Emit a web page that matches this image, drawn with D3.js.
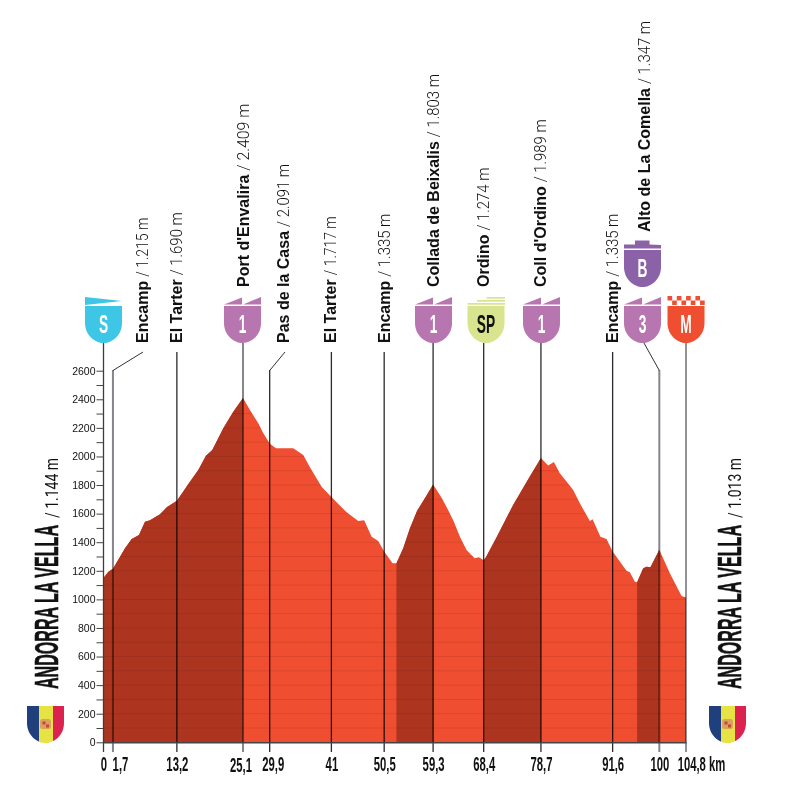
<!DOCTYPE html>
<html>
<head>
<meta charset="utf-8">
<script src="https://cdnjs.cloudflare.com/ajax/libs/d3/7.8.5/d3.min.js"></script>
<style>
    html, body { margin: 0; padding: 0; background: #fff; }
    svg { display: block; }
    text { font-family: "Liberation Sans", Arial, sans-serif; fill: #111; }
</style>
</head>
<body>
<div id="chart"></div>
<script>
// profile
const profileKm = [0, 0.1, 0.87, 1.7, 2.97, 3.87, 5.07, 6.38, 7.46, 8.36, 10.16, 11.37, 13.2, 14.35, 15.26, 17.05, 18.43, 19.57, 21.55, 23.35, 25.1,
    26.35, 27.85, 28.75, 29.9, 31.03, 34.14, 35.94, 37.14, 39.24, 41, 43.74, 45.83, 46.9, 48.24, 49.42, 50.5, 52.0, 52.7,
    53.92, 55.13, 56.44, 57.82, 59.3, 60.52, 61.1, 62.0, 63.04, 64.12, 65.32, 66.04, 66.8, 67.54, 68.4, 68.8, 70.72, 73.7, 76.7, 78.7,
    80, 81.03, 82.1, 83.3, 84.5, 85.7, 87.5, 88, 89.4, 90.5, 91.6, 94.1, 94.7, 95.6, 96, 97.1, 97.7, 98.4, 100, 101.9, 104, 104.7, 104.8];
const profileElev = [1144, 1155, 1194, 1215, 1299, 1357, 1423, 1451, 1544, 1553, 1595, 1644, 1690, 1754, 1807, 1905, 2005, 2045, 2197, 2313, 2409,
    2325, 2232, 2162, 2091, 2057, 2057, 2010, 1924, 1788, 1717, 1609, 1549, 1553, 1439, 1409, 1335, 1253, 1253,
    1358, 1498, 1621, 1707, 1803, 1731, 1691, 1626, 1544, 1439, 1346, 1316, 1288, 1295, 1274, 1295, 1435, 1661, 1859, 1989,
    1936, 1961, 1882, 1824, 1766, 1672, 1549, 1560, 1439, 1423, 1335, 1201, 1190, 1124, 1120, 1218, 1229, 1225, 1347, 1183, 1024, 1015, 1013];

// the darker climbs
const climbStart = [0, 52.7, 68.4, 96];
const climbEnd = [25.1, 59.3, 78.7, 100];

// passages along the stage
const stageKm = [1.7, 13.2, 25.1, 29.9, 41, 50.5, 59.3, 68.4, 78.7, 91.6, 100];
const stageNames = ['Encamp', 'El Tarter', "Port d'Envalira", 'Pas de la Casa', 'El Tarter', 'Encamp', 'Collada de Beixalis', 'Ordino', "Coll d'Ordino", 'Encamp', 'Alto de La Comella'];
const stageAlts = ['1.215', '1.690', '2.409', '2.091', '1.717', '1.335', '1.803', '1.274', '1.989', '1.335', '1.347'];

const kmTicks = [0, 1.7, 13.2, 25.1, 29.9, 41, 50.5, 59.3, 68.4, 78.7, 91.6, 100, 104.8];
const kmLabels = ['0', '1,7', '13,2', '25,1', '29,9', '41', '50,5', '59,3', '68,4', '78,7', '91,6', '100', '104,8 km'];
const elevTicks = d3.range(0, 2601, 100);

const startName = 'ANDORRA LA VELLA';
const startAlt = '/ 1.144 m';
const finishAlt = '/ 1.013 m';

const width = 785;
const height = 799;

const colors = { red: '#F04E30', dark: '#AD351F', cat: '#B876B0', b: '#8B62A8', sp: '#D9E58E', s: '#3EC6E6' };

const svg = d3.select('#chart').append('svg')
    .attr('width', width)
    .attr('height', height);

const x = d3.scaleLinear().domain([0, 104.8]).range([103.5, 686]);
const y = d3.scaleLinear().domain([0, 2600]).range([742.3, 370.7]);

// Area and its clip
const area = d3.area()
    .x((d, i) => x(profileKm[i]))
    .y0(y(0))
    .y1(d => y(d));

svg.append('clipPath').attr('id', 'profile')
    .append('path').attr('d', area(profileElev));

svg.append('path')
    .attr('d', area(profileElev))
    .attr('fill', colors.red);

const inside = svg.append('g').attr('clip-path', 'url(#profile)');

inside.selectAll('.climb')
    .data(climbStart)
    .enter().append('rect')
    .attr('class', 'climb')
    .attr('x', d => x(d))
    .attr('width', (d, i) => x(climbEnd[i]) - x(d))
    .attr('y', y(2600))
    .attr('height', y(0) - y(2600))
    .attr('fill', colors.dark);

inside.selectAll('.grid')
    .data(elevTicks)
    .enter().append('line')
    .attr('class', 'grid')
    .attr('x1', x(0))
    .attr('x2', x(104.8))
    .attr('y1', d => y(d))
    .attr('y2', d => y(d))
    .attr('stroke', '#000')
    .attr('stroke-opacity', 0.09)
    .attr('stroke-width', 1);

// Y axis
const yAxis = d3.axisLeft(y)
    .tickValues(elevTicks)
    .tickSize(7)
    .tickPadding(1)
    .tickFormat(d => d % 200 === 0 ? d : '');

const yG = svg.append('g')
    .attr('transform', `translate(${x(0)},0)`)
    .call(yAxis);
yG.select('.domain').remove();
yG.selectAll('.tick line').attr('stroke', '#444').attr('stroke-width', 1);
yG.selectAll('.tick text')
    .style('font-family', '"Liberation Sans", Arial, sans-serif')
    .style('font-size', '10.5px')
    .attr('fill', '#222');

// Stage lines, some of them with a bent leader up to the label
const leaderTop = { 1.7: 143, 29.9: 285, 100: 644 };
const badgeKm = [25.1, 59.3, 68.4, 78.7];
const greyKm = [1.7, 25.1, 100];

const linePath = km => {
    const px = x(km);
    if (leaderTop[km] !== undefined) return d3.line()([[px, 370], [px, 752]]);
    const top = badgeKm.includes(km) ? 343 : 352;
    return d3.line()([[px, top], [px, 752]]);
};

svg.selectAll('.stage')
    .data(stageKm)
    .enter().append('path')
    .attr('class', 'stage')
    .attr('d', linePath)
    .attr('fill', 'none')
    .attr('stroke', d => greyKm.includes(d) ? '#85858b' : '#2a2a30')
    .attr('stroke-width', d => greyKm.includes(d) ? 2 : 1.3)
    .style('mix-blend-mode', 'multiply');

svg.selectAll('.leader')
    .data(stageKm.filter(d => leaderTop[d] !== undefined))
    .enter().append('path')
    .attr('class', 'leader')
    .attr('d', d => d3.line()([[leaderTop[d], d === 100 ? 343 : 352], [x(d), 370.5]]))
    .attr('fill', 'none')
    .attr('stroke', '#333')
    .attr('stroke-width', 1);

// start and finish lines
svg.append('path').attr('d', d3.line()([[x(0), 343], [x(0), 752]])).attr('stroke', '#3c3c42').attr('stroke-width', 1.3);
svg.append('path').attr('d', d3.line()([[x(104.8), 343], [x(104.8), 752]])).attr('stroke', '#77777d').attr('stroke-width', 1.6).style('mix-blend-mode', 'multiply');

// X axis
const xAxis = d3.axisBottom(x)
    .tickValues(kmTicks)
    .tickSize(0)
    .tickPadding(0)
    .tickFormat((d, i) => kmLabels[i]);

const labelNudge = { 1.7: 7, 25.1: -2.5, 29.9: 3, 104.8: 15 };

const xG = svg.append('g')
    .attr('transform', `translate(0,${y(0)})`)
    .call(xAxis);
xG.select('.domain').attr('stroke', '#444').attr('stroke-width', 1.4);
xG.selectAll('.tick text')
    .attr('y', 0)
    .attr('dy', 0)
    .attr('fill', '#111')
    .style('font-family', '"Liberation Sans", Arial, sans-serif')
    .style('font-size', '19.5px')
    .style('font-weight', 700)
    .attr('transform', d => `translate(${labelNudge[d] || 0},${d === 25.1 ? 29.5 : 28.5}) scale(0.58,1)`);

// Rotated passage labels
const labelX = { 1.7: 148, 13.2: 181.5, 25.1: 249, 29.9: 289, 41: 336, 50.5: 389.5, 59.3: 439, 68.4: 489, 78.7: 546, 91.6: 618, 100: 650 };
const labelBase = { 25.1: 287, 59.3: 287, 68.4: 287, 78.7: 287, 100: 232 };

stageKm.forEach((km, i) => {
    const g = svg.append('g')
        .attr('transform', `translate(${labelX[km]},${labelBase[km] || 343}) rotate(-90)`);
    const name = g.append('text')
        .text(stageNames[i])
        .style('font-size', '16px')
        .style('font-weight', 700);
    const len = name.node().getComputedTextLength();
    // the ones sit tighter in the original type, so those labels run shorter
    const ones = stageAlts[i].split('1').length - 1;
    g.append('text')
        .text(`/ ${stageAlts[i]} m`)
        .attr('x', len + 4)
        .attr('textLength', 67 - 4 * ones)
        .attr('lengthAdjust', 'spacingAndGlyphs')
        .style('font-family', 'Roboto, "Liberation Sans", sans-serif')
        .style('font-weight', 300)
        .style('font-size', '16px');
});

// Start and finish names
[[58, startAlt], [741, finishAlt]].forEach(([bx, alt]) => {
    svg.append('text')
        .text(startName)
        .attr('transform', `translate(${bx},689) rotate(-90)`)
        .attr('textLength', 164)
        .attr('lengthAdjust', 'spacingAndGlyphs')
        .attr('stroke', '#111')
        .attr('stroke-width', 0.6)
        .style('font-size', '34px')
        .style('font-weight', 700);
    svg.append('text')
        .text(alt)
        .attr('transform', `translate(${bx},518) rotate(-90)`)
        .attr('textLength', 60)
        .attr('lengthAdjust', 'spacingAndGlyphs')
        .style('font-family', 'Roboto, "Liberation Sans", sans-serif')
        .style('font-weight', 400)
        .style('font-size', '19px');
});

// Shield shape, centred on cx and 37 wide
const shield = (cx, top) => {
    const p = d3.path();
    p.moveTo(cx - 18.5, top);
    p.lineTo(cx + 18.5, top);
    p.lineTo(cx + 18.5, top + 17);
    p.bezierCurveTo(cx + 18.5, top + 29, cx + 9, top + 37, cx, top + 37);
    p.bezierCurveTo(cx - 9, top + 37, cx - 18.5, top + 29, cx - 18.5, top + 17);
    p.closePath();
    return p.toString();
};

function badge(cx, top, color, letter, letterColor) {
    svg.append('path').attr('d', shield(cx, top)).attr('fill', color);
    svg.append('text')
        .text(letter)
        .attr('text-anchor', 'middle')
        .attr('transform', `translate(${cx},${top + 26.5}) scale(0.55,1)`)
        .style('fill', letterColor)
        .style('font-size', '25px')
        .style('font-weight', 700);
}

function poly(pts, color) {
    svg.append('polygon')
        .attr('points', pts.map(p => p.join(',')).join(' '))
        .attr('fill', color);
}

function peaks(cx, color) {
    poly([[cx - 18.5, 304.5], [cx - 0.5, 297.5], [cx - 0.5, 304.5]], color);
    poly([[cx + 0.5, 304.5], [cx + 18.5, 297], [cx + 18.5, 304.5]], color);
}

// S
badge(103.5, 306, colors.s, 'S', '#fff');
poly([[85, 297], [122, 301], [85, 305]], colors.s);

// mountain passes
[[242.5, '1'], [433.5, '1'], [541.5, '1'], [642.5, '3']].forEach(([cx, label]) => {
    badge(cx, 306, colors.cat, label, '#fff');
    peaks(cx, colors.cat);
});

// SP
badge(486, 306, colors.sp, 'SP', '#111');
poly([[467.5, 303], [505, 303], [505, 304.7], [467.5, 304.7]], colors.sp);
poly([[477, 300], [505, 300], [505, 301.7], [477, 301.7]], colors.sp);
poly([[486.5, 297], [505, 297], [505, 298.7], [486.5, 298.7]], colors.sp);

// B
badge(642.5, 250, colors.b, 'B', '#fff');
poly([[624, 248.5], [624, 244.5], [635, 244.5], [635, 240.5], [649.5, 240.5], [649.5, 244.5], [661, 245], [661, 248.5]], colors.b);

// M with the checkered strip
badge(686, 306, colors.red, 'M', '#fff');
d3.range(0, 8).forEach(i => {
    const cx = 667.5 + i * 4.65;
    const top = i % 2 ? 300.5 : 296;
    poly([[cx, top], [cx + 4.65, top], [cx + 4.65, top + 4.5], [cx, top + 4.5]], colors.red);
});

// Andorran flags
function flag(cx, id) {
    const top = 706;
    svg.append('clipPath').attr('id', id).append('path').attr('d', shield(cx, top));
    const g = svg.append('g').attr('clip-path', `url(#${id})`);
    g.append('rect').attr('x', cx - 18.5).attr('y', top).attr('width', 12).attr('height', 37).attr('fill', '#1F3F7D');
    g.append('rect').attr('x', cx - 6.5).attr('y', top).attr('width', 14).attr('height', 37).attr('fill', '#E8E344');
    g.append('rect').attr('x', cx + 7.5).attr('y', top).attr('width', 11).attr('height', 37).attr('fill', '#DC2350');
    g.append('rect').attr('x', cx - 5.5).attr('y', top + 13).attr('width', 11).attr('height', 10).attr('rx', 2.5).attr('fill', '#D9A35C');
    g.append('rect').attr('x', cx - 3).attr('y', top + 15.5).attr('width', 3).attr('height', 3).attr('fill', '#C4473A');
    g.append('rect').attr('x', cx + 0.5).attr('y', top + 18.5).attr('width', 3).attr('height', 3).attr('fill', '#C4473A');
}
flag(45.5, 'flagStart');
flag(727.5, 'flagEnd');
</script>
</body>
</html>
